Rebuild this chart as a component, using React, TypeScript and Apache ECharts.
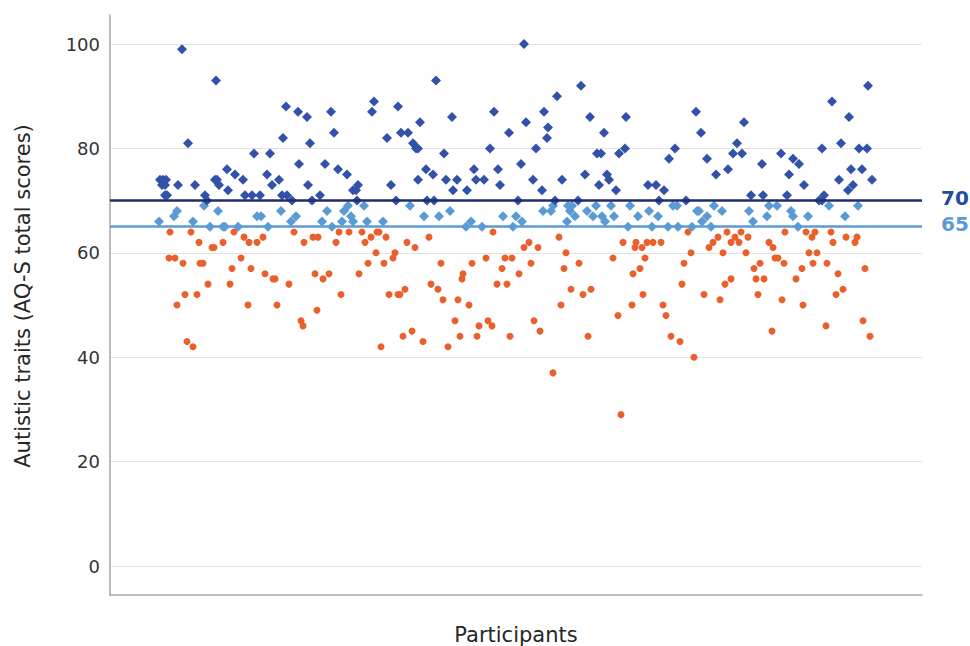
import React, { useEffect, useRef } from "react";
import * as echarts from "echarts";

// Participant order (x) and AQ-S total score (y), split by group
const highScores: [number, number][] = [
  [10,74],[13,74],[16,74],[12,73],[15,73],[15,71],[17,71],[28,73],[32,99],[38,81],[45,73],[55,71],[57,70],[66,93],[65,74],[67,74],[69,73],[77,76],[78,72],[85,75],[93,74],[95,71],[102,71],[104,79],[110,71],[117,75],[120,79],[122,73],
  [129,74],[133,82],[136,88],[132,71],[137,71],[142,70],[148,87],[149,77],[157,86],[158,73],[160,81],[162,70],[170,71],[175,77],[181,87],[184,83],[188,76],[197,75],[203,72],[206,72],[208,73],[207,70],[222,87],[224,89],[237,82],[241,73],[246,70],[248,88],
  [251,83],[258,83],[263,81],[266,80],[268,80],[268,74],[270,85],[276,76],[277,70],[283,75],[284,70],[286,93],[294,79],[296,74],[302,86],[303,72],[307,74],[317,72],[324,76],[326,74],[334,74],[340,80],[344,87],[348,76],[350,73],[359,83],[368,70],[371,77],[374,100],[376,85],
  [383,74],[386,80],[392,72],[394,87],[397,82],[398,84],[405,70],[407,90],[412,74],[428,70],[431,92],[435,75],[440,86],[447,79],[449,73],[451,79],[454,83],[457,75],[459,74],[466,72],[469,79],[475,80],[476,86],[498,73],
  [506,73],[509,70],[514,72],[519,78],[525,80],[536,70],[546,87],[551,83],[557,78],[566,75],[578,76],[583,79],[587,81],[592,79],[594,85],[601,71],[612,77],[613,71],
  [631,79],[637,71],[639,75],[643,78],[649,77],[654,73],[669,70],[672,70],[672,80],[674,71],[682,89],[689,74],[691,81],[698,72],[699,86],[701,76],[703,73],[709,80],[712,76],[717,80],[718,92],[722,74],
];

const midScores: [number, number][] = [
  [9,66],[24,67],[27,68],[43,66],[54,69],[60,65],[68,68],[73,65],[75,65],[88,65],[107,67],[111,67],[118,65],
  [131,68],[141,66],[146,67],[172,66],[177,68],[182,65],[192,66],[194,68],[198,69],[201,67],[203,66],[214,69],[217,66],[233,66],
  [260,69],[274,67],[289,67],[300,68],[316,65],[321,66],[332,65],[353,67],[363,65],[366,67],[372,66],
  [393,68],[401,68],[403,69],[417,66],[418,69],[420,68],[422,69],[425,67],[437,68],[443,67],[446,69],[452,67],[455,66],[461,69],[464,67],[478,65],[480,69],[488,67],[499,68],
  [502,65],[508,67],[518,65],[523,69],[527,69],[528,65],[542,65],[547,68],[549,68],[552,66],[557,67],[561,65],[564,69],[572,68],[599,68],[603,66],[617,67],[619,69],
  [627,69],[641,68],[643,67],[648,65],[658,67],[679,69],[695,67],[708,69],
];

const lowScores: [number, number][] = [
  [19,59],[20,64],[25,59],[27,50],[33,58],[35,52],[37,43],[41,64],[43,42],[47,52],[49,62],[50,58],[53,58],[58,54],[62,61],[64,61],[73,62],[80,54],[82,57],[84,64],[91,59],[94,63],[98,50],[99,62],[101,57],[107,62],[113,63],[115,56],[123,55],
  [125,55],[127,50],[139,54],[144,64],[151,47],[153,46],[154,62],[163,63],[165,56],[167,49],[168,63],[173,55],[179,56],[186,62],[189,64],[191,52],[199,64],[209,56],[212,64],[215,62],[218,58],[221,63],[226,60],[227,64],[229,64],[231,42],[234,58],[236,63],[239,52],[243,59],[245,60],[248,52],
  [250,52],[253,44],[255,53],[257,62],[262,45],[265,61],[273,43],[279,63],[281,54],[288,53],[291,58],[293,51],[298,42],[305,47],[308,51],[310,44],[312,55],[313,56],[319,50],[322,58],[327,44],[329,46],[336,59],[338,47],[342,46],[343,64],[347,54],[352,57],[355,59],[357,54],[360,44],[362,59],[369,56],[374,61],
  [379,62],[381,58],[384,47],[388,61],[390,45],[403,37],[409,63],[411,50],[414,57],[416,60],[421,53],[429,58],[433,52],[438,44],[441,53],[463,59],[468,48],[471,29],[473,62],[482,50],[483,56],[485,61],[486,62],[490,57],[492,61],[493,52],[495,59],[497,62],
  [503,62],[511,62],[513,50],[516,48],[521,44],[530,43],[532,54],[534,58],[538,64],[541,60],[544,40],[554,52],[559,61],[563,62],[568,63],[570,51],[573,60],[575,54],[577,64],[581,55],[581,62],[585,63],[589,62],[591,64],[596,60],[598,63],[604,57],[606,55],[608,52],[610,58],[614,55],[619,62],[622,45],[623,61],
  [625,59],[628,59],[632,51],[634,58],[635,64],[646,55],[652,57],[653,50],[656,64],[659,60],[662,63],[663,58],[665,64],[667,60],[676,46],[677,58],[681,64],[683,62],[686,52],[688,56],[693,53],[696,63],[705,62],[707,63],[713,47],[715,57],[720,44],
];

const thresholds = [70, 65];
const thresholdColors = ["#1f2d6e", "#5b9bd5"];
const thresholdLabelColors = ["#1f4e9c", "#5b9bd5"];

const yTickMin = 0;
const yTickMax = 100;
const yTickStep = 20;

const FONT = "DejaVu Sans";

export default function App() {
  const ref = useRef<HTMLDivElement>(null);

  useEffect(() => {
    document.body.style.margin = "0";
    if (!ref.current) return;
    const chart = echarts.init(ref.current, undefined, { renderer: "svg" });

    const option: any = {
      animation: false,
      backgroundColor: "#ffffff",
      grid: [
        { left: 110, right: 48, top: 15, bottom: 51, containLabel: false, outerBoundsMode: "none" },
        { left: 110, right: 48, top: 44, bottom: 80, containLabel: false, outerBoundsMode: "none" },
      ],
      xAxis: [
        {
          gridIndex: 0,
          type: "value",
          min: -40,
          max: 772,
          axisLine: { show: true, onZero: false, lineStyle: { color: "#a6a6a6", width: 1.5 } },
          axisTick: { show: false },
          axisLabel: { show: false },
          splitLine: { show: false },
          name: "Participants",
          nameLocation: "middle",
          nameGap: 29,
          nameTextStyle: { fontFamily: FONT, fontSize: 21, color: "#262626" },
        },
        {
          gridIndex: 1,
          type: "value",
          min: -40,
          max: 772,
          show: false,
        },
      ],
      yAxis: [
        {
          gridIndex: 0,
          type: "value",
          min: -5.55,
          max: 105.55,
          axisLine: { show: true, onZero: false, lineStyle: { color: "#a6a6a6", width: 1.5 } },
          axisTick: { show: false },
          axisLabel: { show: false },
          splitLine: { show: false },
          name: "Autistic traits (AQ-S total scores)",
          nameLocation: "middle",
          nameGap: 77,
          nameTextStyle: {
            fontFamily: FONT,
            fontSize: 21,
            color: "#262626",
            padding: [0, 0, 0, 18],
          },
        },
        {
          gridIndex: 1,
          type: "value",
          min: yTickMin,
          max: yTickMax,
          interval: yTickStep,
          axisLine: { show: false, onZero: false },
          axisTick: { show: false },
          axisLabel: {
            fontFamily: FONT,
            fontSize: 18,
            color: "#333333",
            margin: 10,
          },
          splitLine: { show: true, lineStyle: { color: "#e3e3e3", width: 1.2 } },
        },
      ],
      series: [
        {
          name: "low",
          type: "scatter",
          xAxisIndex: 0,
          yAxisIndex: 0,
          symbol: "circle",
          symbolSize: 7,
          itemStyle: { color: "#e9602c", opacity: 1 },
          data: lowScores,
          z: 2,
        },
        {
          name: "mid",
          type: "scatter",
          xAxisIndex: 0,
          yAxisIndex: 0,
          symbol: "diamond",
          symbolSize: 10,
          itemStyle: { color: "#5b9bd5", opacity: 1 },
          data: midScores,
          z: 3,
        },
        {
          name: "high",
          type: "scatter",
          xAxisIndex: 0,
          yAxisIndex: 0,
          symbol: "diamond",
          symbolSize: 10,
          itemStyle: { color: "#3152a8", opacity: 1 },
          data: highScores,
          z: 4,
          markLine: {
            silent: true,
            symbol: "none",
            animation: false,
            data: thresholds.map((t, i) => ({
              yAxis: t,
              lineStyle: { color: thresholdColors[i], width: 2.5, type: "solid" },
              label: {
                show: true,
                position: "end",
                distance: 19,
                formatter: String(t),
                fontFamily: FONT,
                fontSize: 20,
                fontWeight: "bold",
                color: thresholdLabelColors[i],
                offset: [0, -3],
              },
            })),
          },
        },
      ],
    };

    chart.setOption(option);
    return () => chart.dispose();
  }, []);

  return <div ref={ref} style={{ width: 970, height: 646 }} />;
}
